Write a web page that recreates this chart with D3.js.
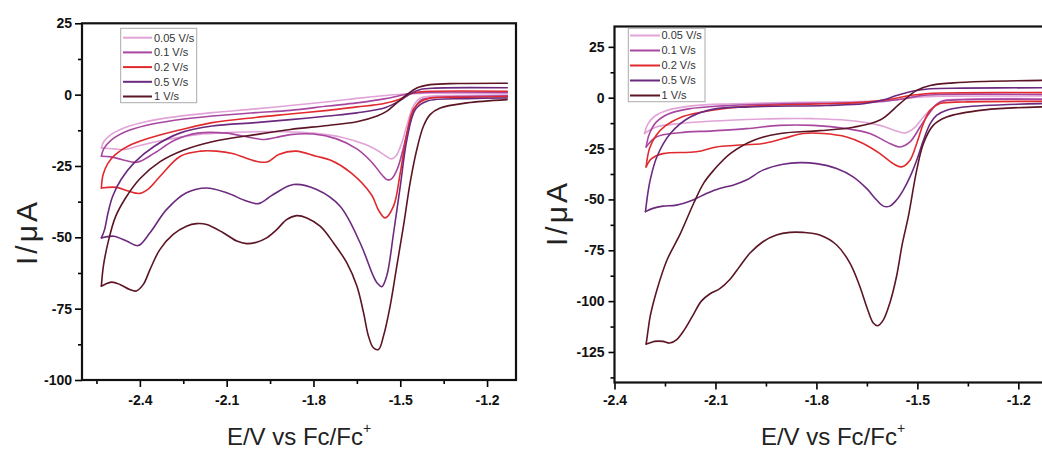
<!DOCTYPE html>
<html><head><meta charset="utf-8">
<script src="https://cdn.jsdelivr.net/npm/d3@7"></script>
<style>body{margin:0;background:#fff}svg{display:block}</style>
</head><body><svg id="c" width="1042" height="450"></svg>
<script>
// ---------- shared ----------
const rates = ["0.05 V/s", "0.1 V/s", "0.2 V/s", "0.5 V/s", "1 V/s"];
const colors = ["#e2a3d8", "#a8479f", "#e02a2e", "#6b2a7e", "#5c1524"];
const xTickVals = [-2.4, -2.1, -1.8, -1.5, -1.2];
const xMinorA = [-2.55, -2.25, -1.95, -1.65, -1.35];
const xMinorB = [-2.25, -1.95, -1.65, -1.35];
const yTicksA = [25, 0, -25, -50, -75, -100];
const yMinorA = [12.5, -12.5, -37.5, -62.5, -87.5];
const yTicksB = [25, 0, -25, -50, -75, -100, -125];
const yMinorB = [12.5, -12.5, -37.5, -62.5, -87.5, -112.5, -137.5];

// ---------- panel A (left): cathodic sweep (right->left) and return sweep (left->right) ----------
const A_lower_005 = [[-1.13,-0.1],[-1.30,-0.3],[-1.40,-0.6],[-1.43,-1.2],[-1.455,-4],[-1.475,-10],[-1.495,-17],[-1.515,-21.5],[-1.53,-22.5],[-1.55,-21.5],[-1.58,-19.5],[-1.62,-17.5],[-1.70,-15],[-1.80,-13.5],[-1.90,-13],[-2.00,-13],[-2.10,-13.3],[-2.20,-14],[-2.31,-15.8],[-2.40,-17.8],[-2.45,-19.2],[-2.49,-19],[-2.533,-18.7]];
const A_upper_005 = [[-2.533,-18.7],[-2.525,-16.5],[-2.50,-14],[-2.45,-11.5],[-2.38,-9.5],[-2.28,-7.8],[-2.15,-6.3],[-2.00,-5],[-1.88,-3.8],[-1.75,-2.5],[-1.65,-1.3],[-1.55,-0.3],[-1.47,0.3],[-1.40,0.5],[-1.13,0.5]];
const A_lower_01 = [[-1.13,-0.4],[-1.30,-0.7],[-1.40,-1.2],[-1.43,-2],[-1.45,-5],[-1.47,-11],[-1.49,-19],[-1.51,-26],[-1.53,-29.5],[-1.545,-29.8],[-1.56,-28.5],[-1.60,-23.5],[-1.65,-19],[-1.72,-15.5],[-1.80,-13.8],[-1.88,-14],[-1.93,-15],[-1.97,-15.7],[-2.02,-15],[-2.10,-13.5],[-2.20,-13.5],[-2.28,-16],[-2.35,-20.5],[-2.41,-23.7],[-2.46,-22.8],[-2.50,-21.8],[-2.533,-21.6]];
const A_upper_01 = [[-2.533,-21.6],[-2.525,-19],[-2.50,-16],[-2.45,-13],[-2.38,-10.8],[-2.28,-9],[-2.15,-7.5],[-2.00,-6.3],[-1.88,-5.5],[-1.75,-4],[-1.65,-2.9],[-1.55,-1.4],[-1.47,0.3],[-1.42,0.8],[-1.13,0.8]];
const A_lower_02 = [[-1.13,-0.7],[-1.27,-0.9],[-1.40,-1.3],[-1.43,-2.5],[-1.454,-5],[-1.477,-13.4],[-1.50,-27.4],[-1.523,-39],[-1.552,-43.2],[-1.575,-40.5],[-1.60,-35],[-1.67,-27.4],[-1.74,-23],[-1.79,-21.6],[-1.86,-19.8],[-1.92,-21],[-1.96,-23.6],[-2.00,-23.3],[-2.08,-20.6],[-2.135,-19.8],[-2.19,-19.8],[-2.26,-21.6],[-2.33,-28.6],[-2.37,-33],[-2.40,-34.6],[-2.44,-33.8],[-2.48,-32.5],[-2.533,-32.7]];
const A_upper_02 = [[-2.533,-32.7],[-2.527,-28],[-2.51,-24],[-2.485,-21],[-2.44,-18],[-2.37,-15.3],[-2.255,-12.2],[-2.15,-9.8],[-2.00,-8],[-1.88,-6.8],[-1.75,-5.5],[-1.65,-4.3],[-1.56,-3.2],[-1.50,-1.5],[-1.465,0.3],[-1.43,1],[-1.38,1.2],[-1.13,1.2]];
const A_lower_05 = [[-1.13,-1.2],[-1.27,-1.4],[-1.408,-2.3],[-1.448,-5.25],[-1.477,-15.75],[-1.50,-32.1],[-1.523,-48.4],[-1.547,-63.6],[-1.564,-67.3],[-1.58,-66],[-1.593,-63.6],[-1.639,-51.9],[-1.708,-39.1],[-1.789,-33.25],[-1.869,-31.5],[-1.939,-35],[-1.99,-38.2],[-2.031,-37.3],[-2.10,-34.4],[-2.169,-32.7],[-2.239,-34.4],[-2.308,-40.3],[-2.365,-48.4],[-2.406,-52.9],[-2.446,-51.3],[-2.49,-49.6],[-2.533,-50.2]];
const A_upper_05 = [[-2.533,-50.2],[-2.522,-47.3],[-2.51,-41.4],[-2.494,-35.6],[-2.465,-29.75],[-2.42,-23.9],[-2.35,-18.1],[-2.26,-13.4],[-2.15,-11],[-2.00,-9.8],[-1.88,-8.75],[-1.75,-7.5],[-1.65,-6.4],[-1.55,-4.5],[-1.50,-2],[-1.465,0.3],[-1.43,1.8],[-1.38,2.3],[-1.13,2.4]];
const A_lower_1 = [[-1.131,-1.75],[-1.27,-2.9],[-1.362,-4.7],[-1.397,-7],[-1.42,-11.1],[-1.443,-19.3],[-1.466,-30.9],[-1.489,-46.1],[-1.512,-60.1],[-1.535,-74.1],[-1.558,-84.6],[-1.575,-89.3],[-1.593,-88.7],[-1.61,-84.6],[-1.627,-76.4],[-1.65,-67.1],[-1.685,-58.9],[-1.731,-51.9],[-1.777,-46.1],[-1.823,-43.2],[-1.858,-42.4],[-1.893,-43.8],[-1.927,-47.3],[-1.962,-50.2],[-1.996,-51.7],[-2.031,-52.2],[-2.065,-51.3],[-2.112,-48.4],[-2.169,-45.5],[-2.204,-45.2],[-2.239,-46.1],[-2.285,-49],[-2.331,-54.3],[-2.365,-61.3],[-2.388,-66.5],[-2.412,-68.8],[-2.435,-68.3],[-2.469,-66.5],[-2.498,-65.7],[-2.521,-66.5],[-2.533,-67.1]];
const A_upper_1 = [[-2.533,-67.1],[-2.526,-60],[-2.508,-51],[-2.485,-43],[-2.451,-36.5],[-2.40,-29.5],[-2.33,-23.5],[-2.25,-19.5],[-2.15,-16.5],[-2.00,-14],[-1.88,-12.2],[-1.75,-10.8],[-1.65,-9.5],[-1.58,-7.5],[-1.546,-5.8],[-1.512,-2.9],[-1.477,0],[-1.443,2.3],[-1.397,3.5],[-1.30,3.9],[-1.13,4]];

// ---------- panel B (right) ----------
const B_lower_005 = [[-1.13,-0.5],[-1.363,-0.7],[-1.423,-1.6],[-1.453,-4.6],[-1.482,-9.5],[-1.512,-15.2],[-1.537,-17.3],[-1.56,-16.5],[-1.611,-13.6],[-1.71,-11.1],[-1.81,-10.3],[-1.909,-10.3],[-2.058,-11.1],[-2.207,-12.7],[-2.276,-14.4],[-2.311,-17.6]];
const B_upper_005 = [[-2.311,-17.6],[-2.301,-13],[-2.28,-9],[-2.24,-6],[-2.17,-4],[-2.05,-3],[-1.86,-2.3],[-1.65,-1.8],[-1.56,-1],[-1.50,0.2],[-1.43,0.7],[-1.13,0.8]];
const B_lower_01 = [[-1.13,-0.8],[-1.363,-1],[-1.433,-2.1],[-1.462,-7],[-1.492,-14.4],[-1.522,-21.7],[-1.552,-24.2],[-1.582,-22.5],[-1.641,-17.6],[-1.71,-15.2],[-1.81,-13.6],[-1.909,-13.6],[-2.008,-15.2],[-2.107,-16.3],[-2.207,-17.2],[-2.276,-19.3],[-2.306,-24.2]];
const B_upper_01 = [[-2.306,-24.2],[-2.296,-17.6],[-2.276,-12],[-2.24,-8],[-2.18,-5.5],[-2.08,-4],[-1.90,-3],[-1.70,-2.5],[-1.60,-1.8],[-1.542,-0.5],[-1.49,1],[-1.43,1.6],[-1.13,1.6]];
const B_lower_02 = [[-1.13,-1.8],[-1.363,-2.1],[-1.433,-2.9],[-1.462,-6.2],[-1.482,-12.7],[-1.502,-22.5],[-1.522,-30.7],[-1.547,-34],[-1.572,-32.4],[-1.611,-27.5],[-1.661,-22.5],[-1.71,-19.3],[-1.78,-17.6],[-1.84,-17.6],[-1.899,-20.1],[-1.959,-22.5],[-2.038,-23.4],[-2.097,-24.2],[-2.157,-26.6],[-2.256,-27.5],[-2.29,-30],[-2.306,-34]];
const B_upper_02 = [[-2.306,-34],[-2.296,-25],[-2.276,-18.5],[-2.25,-14],[-2.20,-9.5],[-2.155,-7.5],[-2.06,-5],[-1.90,-3.5],[-1.77,-3],[-1.66,-2.3],[-1.582,-0.8],[-1.512,1.3],[-1.43,2.3],[-1.13,2.5]];
const B_lower_05 = [[-1.13,-2.9],[-1.363,-4.6],[-1.413,-6.2],[-1.443,-8.7],[-1.462,-12.7],[-1.482,-20.9],[-1.502,-30.7],[-1.522,-38.9],[-1.542,-45.4],[-1.562,-50.3],[-1.582,-53.3],[-1.601,-53.3],[-1.621,-50.3],[-1.651,-44.6],[-1.691,-38.9],[-1.74,-34.8],[-1.80,-32.4],[-1.849,-31.9],[-1.899,-32.7],[-1.959,-35.6],[-2.008,-40.5],[-2.048,-43],[-2.088,-44.6],[-2.127,-47.1],[-2.167,-50.3],[-2.216,-52.8],[-2.256,-53.3],[-2.286,-54.4],[-2.308,-56]];
const B_upper_05 = [[-2.308,-56],[-2.301,-47],[-2.294,-40.5],[-2.274,-29],[-2.234,-17.6],[-2.175,-9.5],[-2.105,-5.6],[-2.00,-4.5],[-1.77,-3.8],[-1.66,-3],[-1.60,-1],[-1.562,1.1],[-1.512,3.3],[-1.462,4.4],[-1.363,4.7],[-1.13,4.9]];
const B_lower_1 = [[-1.13,-4.5],[-1.30,-6],[-1.413,-9.5],[-1.453,-13.6],[-1.482,-22.5],[-1.502,-35.6],[-1.527,-58.5],[-1.545,-72],[-1.562,-87.9],[-1.582,-101],[-1.601,-109.2],[-1.618,-112.1],[-1.631,-110.8],[-1.651,-102.6],[-1.671,-92.8],[-1.70,-81.4],[-1.74,-72.4],[-1.79,-67.5],[-1.84,-66.2],[-1.879,-66.2],[-1.919,-67.5],[-1.959,-70.8],[-1.998,-76.5],[-2.028,-83],[-2.058,-89.5],[-2.088,-94],[-2.117,-96.5],[-2.142,-100],[-2.167,-107],[-2.192,-114],[-2.216,-119],[-2.236,-120.6],[-2.256,-119.8],[-2.281,-119.8],[-2.296,-120.6],[-2.306,-121.1]];
const B_upper_1 = [[-2.306,-121.1],[-2.30,-114],[-2.294,-107.5],[-2.274,-94.5],[-2.244,-79.8],[-2.204,-66.7],[-2.165,-52],[-2.135,-42],[-2.105,-35.6],[-2.056,-27.5],[-1.986,-20.9],[-1.907,-17.6],[-1.79,-16.2],[-1.69,-14.5],[-1.611,-11],[-1.552,-2.9],[-1.502,3.6],[-1.462,6],[-1.393,7.3],[-1.30,8],[-1.13,8.5]];

const panelAseries = [[A_lower_005, A_upper_005],[A_lower_01, A_upper_01],[A_lower_02, A_upper_02],[A_lower_05, A_upper_05],[A_lower_1, A_upper_1]];
const panelBseries = [[B_lower_005, B_upper_005],[B_lower_01, B_upper_01],[B_lower_02, B_upper_02],[B_lower_05, B_upper_05],[B_lower_1, B_upper_1]];

const panels = [
  { id: "A", xDomain: [-2.6, -1.1], yDomain: [-100, 25], left: 82, right: 516, top: 23.3, bottom: 380,
    yTicks: yTicksA, yMinor: yMinorA, xMinor: xMinorA, series: panelAseries,
    yTickSize: 7, yPad: 3, xPad: 8,
    legend: { x: 120.7, y: 28.3, w: 76, h: 74.4, y0: 37.7, dy: 14.7, lx0: 123, lx1: 152, tx: 154 },
    xLabel: { x: 299, y: 445 }, yLabel: { x: 37, y: 232 } },
  { id: "B", xDomain: [-2.4, -1.1], yDomain: [-140, 35], left: 614.5, right: 1052, top: 26.5, bottom: 382.5,
    yTicks: yTicksB, yMinor: yMinorB, xMinor: xMinorB, series: panelBseries,
    yTickSize: 6, yPad: 4, xPad: 6,
    legend: { x: 628.3, y: 28.3, w: 76.7, h: 73.4, y0: 35.5, dy: 15, lx0: 630, lx1: 660, tx: 661.5 },
    xLabel: { x: 833, y: 445 }, yLabel: { x: 567, y: 213 } }
];

const svg = d3.select("#c");
svg.append("rect").attr("width", 1042).attr("height", 450).attr("fill", "#fff");
const FONT = "'Liberation Sans', Arial, Helvetica, sans-serif";

panels.forEach(p => {
  const x = d3.scaleLinear().domain(p.xDomain).range([p.left, p.right]);
  const y = d3.scaleLinear().domain(p.yDomain).range([p.bottom, p.top]);
  const g = svg.append("g");

  const clipId = "clip" + p.id;
  svg.append("clipPath").attr("id", clipId).append("rect")
    .attr("x", p.left).attr("y", p.top).attr("width", p.right - p.left).attr("height", p.bottom - p.top);

  // curves
  const line = d3.line().x(d => x(d[0])).y(d => y(d[1])).curve(d3.curveCatmullRom.alpha(0.5));
  const cg = g.append("g").attr("clip-path", `url(#${clipId})`);
  p.series.forEach((branches, i) => {
    branches.forEach(b => {
      cg.append("path").attr("d", line(b)).attr("fill", "none")
        .attr("stroke", colors[i]).attr("stroke-width", 1.6)
        .attr("stroke-linejoin", "round").attr("stroke-linecap", "round");
    });
  });

  // minor ticks
  g.append("g").attr("transform", `translate(0,${p.bottom})`)
    .call(d3.axisBottom(x).tickValues(p.xMinor).tickSize(4).tickFormat(""))
    .call(a => a.select(".domain").remove());
  g.append("g").attr("transform", `translate(${p.left},0)`)
    .call(d3.axisLeft(y).tickValues(p.yMinor).tickSize(4).tickFormat(""))
    .call(a => a.select(".domain").remove());

  // major ticks
  const xa = g.append("g").attr("transform", `translate(0,${p.bottom})`)
    .call(d3.axisBottom(x).tickValues(xTickVals).tickSize(7).tickPadding(p.xPad).tickFormat(d => d.toFixed(1)));
  xa.select(".domain").remove();
  const ya = g.append("g").attr("transform", `translate(${p.left},0)`)
    .call(d3.axisLeft(y).tickValues(p.yTicks).tickSize(p.yTickSize).tickPadding(p.yPad).tickFormat(d => String(d)));
  ya.select(".domain").remove();
  g.selectAll(".tick line").attr("stroke", "#000").attr("stroke-width", 1.6);
  g.selectAll(".tick text").attr("font-family", FONT).attr("font-weight", "bold")
    .attr("font-size", 14).attr("fill", "#111");

  // frame
  g.append("rect").attr("x", p.left).attr("y", p.top)
    .attr("width", p.right - p.left).attr("height", p.bottom - p.top)
    .attr("fill", "none").attr("stroke", "#111").attr("stroke-width", 2.2);

  // legend
  const L = p.legend;
  const lg = g.append("g");
  lg.append("rect").attr("x", L.x).attr("y", L.y).attr("width", L.w).attr("height", L.h)
    .attr("fill", "#fff").attr("stroke", "#aaa").attr("stroke-width", 1);
  rates.forEach((r, i) => {
    const yy = L.y0 + i * L.dy;
    lg.append("line").attr("x1", L.lx0).attr("x2", L.lx1).attr("y1", yy).attr("y2", yy)
      .attr("stroke", colors[i]).attr("stroke-width", 2);
    lg.append("text").attr("x", L.tx).attr("y", yy).attr("dy", "0.36em")
      .attr("font-family", FONT).attr("font-size", 11).attr("fill", "#333").text(r);
  });

  // axis titles
  const xt = g.append("text").attr("x", p.xLabel.x).attr("y", p.xLabel.y)
    .attr("text-anchor", "middle").attr("font-family", FONT).attr("font-size", 24).attr("fill", "#222");
  xt.append("tspan").text("E/V vs Fc/Fc");
  xt.append("tspan").attr("font-size", 14).attr("dy", -12).text("+");

  g.append("text").attr("transform", `translate(${p.yLabel.x},${p.yLabel.y}) rotate(-90)`)
    .attr("text-anchor", "middle").attr("font-family", FONT).attr("font-size", 30)
    .attr("letter-spacing", 3).attr("fill", "#222").text("I/\u03bcA");
});
</script>
</body></html>
